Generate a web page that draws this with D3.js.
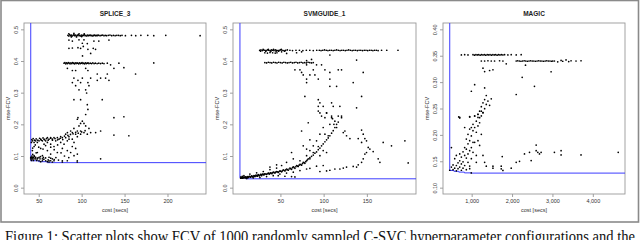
<!DOCTYPE html>
<html>
<head>
<meta charset="utf-8">
<script src="https://cdn.jsdelivr.net/npm/d3@7"></script>
<style>
  body { margin: 0; background: #fff; }
  svg { display: block; font-family: "Liberation Sans", Arial, sans-serif; }
</style>
</head>
<body>
<div id="chart"></div>
<script>
// panel titles and axis ticks
const titles = ["SPLICE_3", "SVMGUIDE_1", "MAGIC"];
const xTicks = [[50, 100, 150, 200], [50, 100, 150], [1000, 2000, 3000, 4000]];
const yTicks = [[0, 0.1, 0.2, 0.3, 0.4, 0.5], [0, 0.1, 0.2, 0.3, 0.4, 0.5], [0.10, 0.15, 0.20, 0.25, 0.30, 0.35, 0.40]];
const yFormats = [".1f", ".1f", ".2f"];
// data ranges (R pads them by 4%)
const xLims = [[40.7, 237], [3, 199], [457, 4630]];
const yLims = [[0, 0.5], [0, 0.5], [0.1, 0.4]];

// [cost secs, mse-FCV]
const splicePoints = [
  [84,.481],[85,.479],[86,.483],[87,.480],[88,.482],[89,.479],[90,.481],[91,.483],[92,.480],[93,.482],[94,.479],[95,.481],[96,.483],[97,.480],[98,.481],[99,.479],[100,.482],[101,.480],[102,.481],[103,.483],[104,.480],[105,.481],[106,.479],[107,.482],[108,.480],[109,.481],[110,.482],[111,.480],[112,.481],[113,.479],[114,.481],[115,.482],[116,.480],[117,.481],[118,.480],[119,.482],[120,.481],[121.5,.480],[123,.481],[124.5,.482],[126,.480],[127.5,.481],[129,.480],[131,.481],[133,.482],[135,.480],[137,.481],[139,.480],[141,.481],[143,.481],[145,.480],[147,.481],[151,.480],[158,.481],[163,.480],[169,.481],[177,.481],[184,.480],[198,.481],[238,.480],
  [85,.486],[88,.476],[91,.487],[94,.476],[97,.486],[100,.477],[103,.486],
  [85.2,.466],[89.2,.463],[96.9,.467],[100.8,.456],[106.6,.455],[114.3,.463],[120,.463],[131.8,.466],[102.7,.467],[85.2,.440],[89.2,.441],[95.7,.442],[98.8,.440],[101.9,.446],[107.3,.437],[113.5,.440],[116.2,.437],[110.5,.424],[101,.416],
  [79.5,.393],[80.5,.395],[81.5,.391],[82.5,.394],[83.5,.392],[84.5,.395],[85.5,.393],[86.5,.391],[87.5,.394],[88.5,.392],[89.5,.395],[90.5,.393],[91.5,.391],[92.5,.394],[93.5,.392],[94.5,.394],[95.5,.393],[96.5,.391],[97.5,.394],[98.5,.392],[99.5,.393],[100.5,.395],[101.5,.392],[102.5,.393],[103.5,.391],[104.5,.394],[105.5,.392],[106.5,.393],[107.5,.394],[108.5,.392],[110,.393],[111.5,.392],[113,.394],[114.5,.392],[116,.393],[118,.392],[120,.393],[122,.392],[124,.393],[126,.392],[129.9,.393],[133.7,.388],[143.4,.393],[184,.394],
  [83.4,.377],[104.7,.377],[137.6,.377],[149.2,.379],[89.2,.370],[93,.370],[107.3,.370],[118.2,.359],[129.9,.359],[162.8,.359],[91,.346],[100.8,.346],[110.5,.346],[122.1,.346],[127.9,.346],[95.7,.339],[118.2,.339],[131.8,.339],[89.2,.332],[98.8,.332],[107.3,.332],[93,.322],[108.5,.322],[96.9,.309],[104.7,.309],[105.8,.299],[91,.278],[98.8,.278],[124,.278],[106.6,.262],[107.3,.247],[104.7,.231],[95.7,.221],[137.6,.221],
  [149.2,.224],[95,.216],[100.8,.210],[98.8,.203],[102.7,.203],[104.7,.195],[96.9,.195],[91,.187],[108.5,.187],[122.1,.179],[95,.179],[98.8,.179],[87.2,.179],[83.4,.174],[89.2,.174],[102.7,.174],[110.5,.174],[116.3,.174],[81.4,.169],[93,.169],[106.6,.169],[98.8,.169],[137.6,.166],[155,.164],[75.6,.161],[85.2,.161],[95,.161],
  [60.1,.158],[63.9,.158],[67.8,.158],[71.7,.158],[77.5,.158],[81.4,.158],[52.3,.153],[56.2,.153],[62,.153],[65.9,.153],[73.6,.153],[85.3,.153],[89.1,.153],
  [42.6,.148],[46.5,.148],[50.4,.148],[54.3,.148],[58.1,.148],[69.8,.148],[83.3,.148],[41.5,.143],[44.6,.143],[48.4,.143],[60.1,.143],[75.6,.143],[91.1,.143],
  [56.2,.1375],[63.9,.1375],[79.5,.1375],[44.6,.130],[67.8,.130],[89.1,.130],[52.3,.124],[77.5,.124],[93,.124],[42.6,.117],[60.1,.117],[83.3,.117],[48.4,.111],[71.7,.111],[87.2,.111],[63.9,.106],[95,.106],[44.6,.101],[54.3,.101],[91.1,.101],
  [40.7,.096],[41.5,.096],[42.6,.096],[43.8,.096],[46.5,.096],[50.4,.096],[55.4,.096],[62,.096],
  [40.7,.091],[41.9,.091],[43,.091],[44.6,.091],[46.5,.091],[48.4,.091],[51.5,.091],[54.3,.091],[65.9,.091],[122.1,.091],
  [41.5,.086],[43.8,.086],[47.7,.086],[50.4,.085],[54.3,.085],[58.1,.085],[62,.085],[63.9,.085],[67.8,.085],[77.5,.085],[83.3,.085],[94.9,.085],
  [52.3,.082],[60.1,.082],[62,.081],[65.9,.081],[77.5,.081],[94.9,.081],
  [42,.152],[43.5,.155],[45,.150],[47,.154],[49,.150],[51,.156],[53,.150],[55,.157],[57,.151],[59,.155],[61,.150],[64,.156],[66,.150],[69,.155],[72,.151],[75,.156],[78,.152],[80,.163],[84,.165],[87,.168],[90,.170],[93,.175],[96,.172],[100,.176],[104,.180],
  [42,.100],[43,.105],[45,.098],[47,.110],[49,.094],[52,.098],[56,.090],[58,.094],[61,.088],[64,.093],[68,.089],[70,.095],[73,.087],[43,.125],[46,.135],[50,.128],[55,.122],[58,.133],[64,.128],[68,.120],[72,.135],[76,.110],[80,.100],[85,.095]
];

const svmPoints = [
  // upper bands
  [26,.434],[27.5,.435],[29,.433],[30.5,.435],[32,.434],[33.5,.433],[35,.435],[36.5,.434],[38,.433],[39.5,.435],[41,.434],[42.5,.433],[44,.435],[45.5,.434],[47,.433],[48.5,.434],[50,.435],[52,.434],[54,.433],[56,.434],[58,.435],[61,.434],[64,.433],[68,.434],[72,.434],[76,.433],
  [27,.431],[30,.437],[33,.431],[36,.437],[39,.431],[42,.437],[45,.431],[48,.431],[51,.437],[55,.431],
  [80,.434],[84,.434],[88,.433],[92,.434],[95,.434],[97,.433],[99,.434],[101,.435],[103,.434],[105,.433],[107,.434],[109,.434],[111,.433],[113,.434],[115,.435],[117,.434],[119,.433],[121,.434],[123,.434],[125,.433],[127,.434],[129,.435],[131,.434],[133,.433],[135,.434],[137,.434],[139,.433],[141,.434],[143,.434],[145,.433],[147,.434],[149,.434],[151,.433],[153,.434],[155,.434],[157,.433],[159,.434],[161,.434],[163,.433],[167,.434],[173,.434],[186,.434],
  [32,.426],[35,.425],[38,.427],[41,.426],[44,.425],[46,.426],[51.4,.429],[57.2,.424],[68.7,.426],[74.5,.429],[107.2,.419],
  [32,.395],[34,.394],[36,.396],[38,.395],[40,.394],[42,.396],[44,.395],[46,.394],[48,.396],[50,.395],[52,.394],[54,.396],[56,.395],[58,.394],[60,.395],[62,.396],[64,.394],[66,.395],[68,.396],[70,.394],[72,.395],[74,.396],[76,.394],[78,.395],[80,.394],[82,.396],[84,.395],[86,.394],[88,.395],
  [80.3,.401],[86,.405],[138.1,.403],[80.3,.388],[91.8,.388],[97.6,.388],
  [66.8,.372],[72.6,.372],[88,.372],[101.5,.372],[116.9,.372],[120.7,.372],[145.8,.364],[74.5,.364],[107.2,.364],[76.4,.356],[84.1,.356],[89.9,.356],
  [80.3,.343],[93.8,.343],[107.2,.343],[80.3,.332],[134.2,.332],[107.2,.320],[115,.320],[78.3,.288],[143.9,.288],[93.8,.278],[95.7,.268],[109.2,.268],
  [93.8,.257],[99.5,.257],[111.1,.257],[118.8,.257],[138.1,.252],[95.7,.236],[103.4,.236],[101.5,.221],[109.2,.221],[120.7,.221],
  // rising band
  [4.0,.030],[5.1,.032],[6.3,.030],[7.0,.033],[8.2,.031],[9.4,.034],[10.1,.031],[11.7,.035],[12.8,.032],[14.0,.036],[15.5,.033],[16.7,.037],[17.8,.034],[19.4,.038],[20.5,.035],[21.7,.040],[23.2,.036],[24.4,.041],[25.5,.037],[27.1,.042],[28.2,.038],[29.4,.043],[30.9,.040],[32.1,.044],[34.0,.042],[35.9,.046],[37.1,.043],[38.6,.047],[40.2,.044],[41.7,.049],[43.7,.046],[45.6,.051],[47.5,.048],[49.4,.053],[51.4,.050],[53.3,.056],[55.2,.053],[57.1,.059],[59.1,.055],[61.0,.062],[62.9,.058],[64.9,.066],[66.8,.061],[68.7,.070],[70.6,.067],[72.6,.074],[74.5,.071],[76.4,.080],[78.3,.077],[80.3,.085],[82.2,.091],[84.1,.095],[86.0,.099],[88.0,.103],[89.9,.109],[91.8,.113],[93.8,.120],[95.7,.125],[97.6,.132],[99.5,.138],[101.5,.145],[103.4,.151],[105.3,.157],[107.2,.164],[109.2,.172],[111.1,.180],[113.0,.190],[115.0,.200],[116.9,.207],
  [4.6,.031],[5.6,.030],[6.8,.031],[7.6,.032],[8.8,.033],[9.8,.032],[10.5,.033],[11.2,.030],[12.2,.033],[13.4,.034],[14.6,.035],[15.9,.035],[17.2,.036],[18.4,.036],[19.9,.037],[21.1,.037],[22.6,.038],[23.8,.039],[24.9,.040],[26.3,.039],[27.7,.041],[28.8,.041],[30.2,.042],[31.5,.043],[33.2,.043],[35.0,.044],[36.5,.045],[38.0,.045],[39.4,.046],[41.0,.047],[42.7,.048],[44.6,.049],[46.6,.050],[48.5,.051],[50.4,.052],[52.3,.053],[54.2,.055],[56.2,.056],[58.1,.057],[60.0,.059],[62.0,.060],[64.0,.063],[65.8,.064],[67.8,.066],[69.7,.068],[71.6,.071],[73.6,.073],[75.5,.076],[77.4,.079],[79.3,.082],[81.2,.088],
  [10.9,.029],[18.6,.031],[26.3,.032],[34,.035],[41.7,.038],[49.4,.043],[57.1,.046],[64.9,.049],[72.6,.054],[80.3,.059],[84.1,.061],[91.8,.068],[99.5,.070],
  [47.5,.038],[55.2,.036],[62.9,.035],[66.8,.034],[4.3,.034],[5.9,.036],[7.8,.038],[14.7,.043],[22.5,.047],[30.2,.051],[37.9,.057],[45.6,.062],
  // scattered above the band
  [37.9,.065],[45.6,.072],[51.4,.070],[57.1,.080],[64.9,.091],[62.9,.111],[72.6,.085],[74.5,.179],[76.4,.132],[80.3,.101],[82.2,.205],[84.1,.117],[84.1,.151],[88,.132],[91.8,.148],[93.8,.242],[95.7,.169],[97.6,.226],[99.5,.190],[101.5,.169],[103.4,.236],[105.3,.164],[107.2,.200],[109.2,.226],[110.3,.218],[111.9,.200],[113,.210],[115,.190],[116.9,.226],[120.7,.226],[88,.111],[95.7,.101],[84.1,.091],[80.3,.122],[93.8,.130],[103.4,.111],[99.5,.117],
  // lower right branch
  [95.7,.051],[103.4,.053],[107.2,.055],[113,.059],[118.8,.059],[122.7,.062],[126.5,.065],[134.2,.067],[138.1,.065],[140,.072],[143.9,.080],[145.8,.091],[147.7,.106],[149.6,.111],[151.6,.127],[153.5,.122],[157.3,.114],[163.1,.091],[165.1,.080],[168.9,.143],[178.5,.132],[194,.148],[197.8,.078],[124.6,.179],[122.7,.174],[126.5,.164],[130.4,.155],[140,.155],[143.9,.182],[145.8,.169],[147.7,.155],[149.6,.148],[143.9,.143]
];

const magicPoints = [
  [745,.3515],[827,.352],[909,.3515],[1033,.352],[1070,.351],[1105,.352],[1140,.3515],[1175,.352],[1210,.351],[1245,.352],[1280,.3515],[1315,.352],[1350,.351],[1385,.352],[1420,.3515],[1455,.352],[1490,.351],[1525,.352],[1560,.3515],[1595,.352],[1630,.351],[1665,.352],[1700,.3515],[1735,.352],[1774,.3515],[1815,.352],[1897,.3515],[1979,.352],[2103,.3515],[2226,.352],
  [1239,.340],[1321,.340],[1403,.3405],[1485,.340],[1567,.340],[1691,.3405],[1774,.340],
  [2103,.340],[2140,.3405],[2180,.340],[2220,.3395],[2260,.340],[2300,.3405],[2340,.340],[2380,.3395],[2420,.340],[2460,.3405],[2500,.340],[2540,.340],[2580,.3395],[2620,.340],[2660,.3405],[2700,.340],[2740,.340],[2780,.3395],[2820,.340],[2860,.3405],[2900,.340],[2940,.340],[2980,.3395],[3008,.340],
  [3049,.340],[3131,.3385],[3214,.341],[3255,.3395],[3337,.342],[3403,.339],[3461,.3405],[3584,.340],[3708,.3405],
  [1856,.3346],[2333,.332],[2967,.3196],[1527,.3234],[1444,.322],[1321,.320],[1280,.3265],
  [2251,.309],[2555,.292],[1074,.2952],[992,.2827],[1321,.289],[2103,.2765],[1362,.2746],[1485,.2684],[1403,.264],[1321,.267],[1280,.2608],[1362,.2577],[1444,.256],[1239,.2534],[1321,.2496],[1239,.245],[1156,.239],[1280,.242],[1074,.2358],[951,.2346],[704,.232],[1197,.2327],
  [1197,.245],[1280,.242],[1156,.239],[1239,.236],[1074,.236],[1156,.233],[704,.233],[951,.234],[1115,.226],[1197,.223],[1033,.220],[1156,.217],[992,.214],[1074,.214],[951,.211],[1033,.208],[1115,.205],[1239,.201],[909,.201],[827,.214],[992,.198],[868,.192],[951,.189],[1033,.186],[909,.183],[827,.176],[992,.176],[868,.173],[951,.170],[786,.168],[1033,.167],[909,.164],[704,.164],[827,.161],[1115,.161],[621,.161],[745,.158],[868,.156],[992,.155],[580,.155],[704,.151],[786,.149],[909,.148],[662,.147],[745,.145],[539,.143],[621,.142],[827,.142],[951,.141],[704,.139],[498,.139],[580,.137],[786,.137],[662,.136],[868,.134],[539,.134],[745,.133],[621,.132],[951,.136],[498,.176],[679,.234],[1197,.180],[1280,.161],[1074,.186],[1156,.189],[1321,.148],[1115,.148],[457,.133],[990,.128],
  [1362,.1407],[1527,.1407],[1527,.137],[1732,.1407],[1732,.1357],[1774,.1326],[1979,.137],[1757,.159],[2103,.148],[2185,.150],[2308,.164],[2432,.167],[2473,.1513],[2597,.1807],[2597,.170],[2638,.167],[2679,.164],[2720,.167],[3049,.167],[3214,.170],[3214,.162],[3708,.162],[4629,.167]
];

// lowest-cost / lowest-error frontier (blue)
const spliceFront = [[40.7, 0.085], [50, 0.082], [60, 0.079]];
const svmFront = [[3.2, 0.031], [10, 0.028]];
const magicFront = [[457, 0.1326], [560, 0.131], [680, 0.1295], [820, 0.128], [990, 0.1276]];

const allPoints = [splicePoints, svmPoints, magicPoints];
const fronts = [spliceFront, svmFront, magicFront];

const captionText = "Figure 1: Scatter plots show FCV of 1000 randomly sampled C-SVC hyperparameter configurations and the";

// svg container
const svgWidth = 640, svgHeight = 240;
const svg = d3.select('#chart').append('svg')
  .attr('width', svgWidth)
  .attr('height', svgHeight);

// outer figure frame
svg.append('rect')
  .attr('x', 1).attr('y', 0.5)
  .attr('width', 637.5).attr('height', 221.5)
  .attr('fill', 'none')
  .attr('stroke', '#8a8a8a')
  .attr('stroke-width', 1.6);

// plot boxes
const boxes = [[24, 206], [233, 416], [443, 625]];
const boxTop = 23, boxBottom = 194;

const pad = ([a, b]) => [a - 0.04 * (b - a), b + 0.04 * (b - a)];

boxes.forEach(([left, right], i) => {
  const g = svg.append('g');
  const xScale = d3.scaleLinear(pad(xLims[i]), [left, right]);
  const yScale = d3.scaleLinear(pad(yLims[i]), [boxBottom, boxTop]);
  const [x0, x1] = xScale.domain();
  const [y0, y1] = yScale.domain();

  // x axis
  const xAxis = g.append('g')
    .attr('transform', `translate(0, ${boxBottom})`)
    .call(d3.axisBottom(xScale).tickValues(xTicks[i]).tickSize(3).tickPadding(2.5));
  // y axis
  const yAxis = g.append('g')
    .attr('transform', `translate(${left}, 0)`)
    .call(d3.axisLeft(yScale).tickValues(yTicks[i]).tickSize(3).tickFormat(d3.format(yFormats[i])));
  [xAxis, yAxis].forEach(ax => {
    ax.select('.domain').remove();
    ax.selectAll('line').attr('stroke', '#777').attr('stroke-width', 0.7);
    ax.selectAll('text').attr('fill', '#333').style('font-size', '5.5px').attr('font-family', null);
  });
  yAxis.selectAll('.tick text')
    .attr('x', null).attr('dy', null)
    .attr('text-anchor', 'middle')
    .attr('transform', 'translate(-6.5, 0) rotate(-90)');

  // box
  g.append('rect')
    .attr('x', left).attr('y', boxTop)
    .attr('width', right - left).attr('height', boxBottom - boxTop)
    .attr('fill', 'none')
    .attr('stroke', '#999')
    .attr('stroke-width', 0.9);

  // frontier line
  const front = fronts[i];
  const frontPath = [[front[0][0], y1], ...front, [x1, front[front.length - 1][1]]];
  g.append('path')
    .attr('d', d3.line().x(d => xScale(d[0])).y(d => yScale(d[1])).curve(d3.curveStepAfter)(frontPath))
    .attr('fill', 'none')
    .attr('stroke', '#3c3cff')
    .attr('stroke-width', 1);

  // points
  g.selectAll('circle')
    .data(allPoints[i])
    .enter()
    .append('circle')
    .attr('cx', d => xScale(d[0]))
    .attr('cy', d => yScale(d[1]))
    .attr('r', 0.85)
    .attr('fill', '#000');

  // title
  g.append('text')
    .attr('x', (left + right) / 2).attr('y', 16)
    .attr('text-anchor', 'middle')
    .style('font-size', '6.5px')
    .attr('font-weight', 700)
    .attr('fill', '#222')
    .text(titles[i]);

  // x label
  g.append('text')
    .attr('x', (left + right) / 2).attr('y', 212)
    .attr('text-anchor', 'middle')
    .style('font-size', '5.5px')
    .attr('fill', '#333')
    .text('cost [secs]');

  // y label
  g.append('text')
    .attr('transform', `translate(${left - 14}, ${(boxTop + boxBottom) / 2}) rotate(-90)`)
    .attr('text-anchor', 'middle')
    .style('font-size', '5.5px')
    .attr('fill', '#333')
    .text('mse-FCV');
});

// caption (cut by the bottom edge, as in the source figure)
svg.append('text')
  .attr('x', 5).attr('y', 242)
  .attr('textLength', 630)
  .attr('lengthAdjust', 'spacingAndGlyphs')
  .style('font-family', '"Liberation Serif", "DejaVu Serif", serif')
  .style('font-size', '16px')
  .attr('fill', '#111')
  .text(captionText);
</script>
</body>
</html>
